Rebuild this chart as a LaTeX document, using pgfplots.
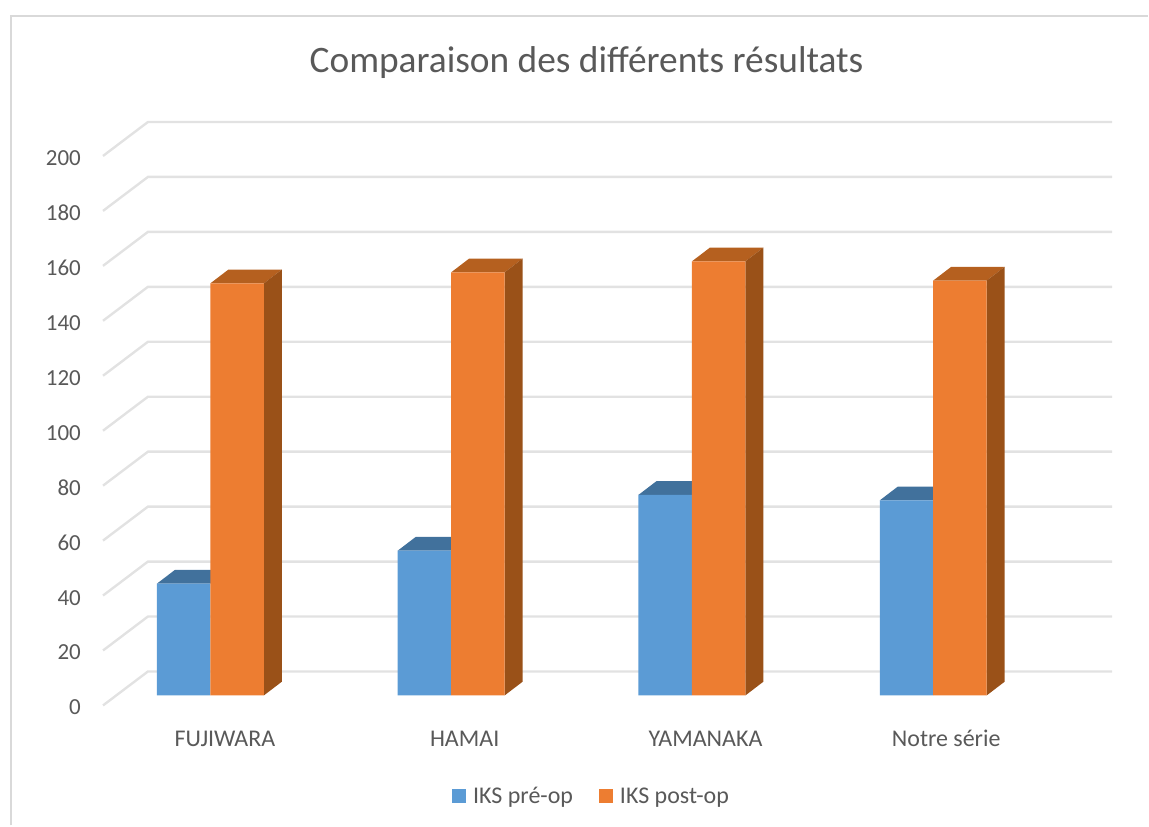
\documentclass[border=0pt]{standalone}
\usepackage{fontspec}
\setmainfont{Carlito}
\usepackage{pgfplots}
\usepackage{pgfplotstable}
\pgfplotsset{compat=1.18}

\definecolor{gridc}{HTML}{E2E2E2}
\definecolor{framec}{HTML}{D9D9D9}
\definecolor{textc}{HTML}{595959}
\definecolor{blueF}{HTML}{5B9BD5}
\definecolor{blueT}{HTML}{41719C}
\definecolor{orangeF}{HTML}{ED7D31}
\definecolor{orangeT}{HTML}{B5601F}
\definecolor{orangeS}{HTML}{9A5118}

% Scores per series: position of the bar centre, score
\pgfplotstableread{
pos   val
183.75 40.7
424.75 52.7
665.75 73
907.25 71
}\preop
\pgfplotstableread{
pos   val
237.25 150
478.25 154
719.25 158
960.75 151
}\postop

% Oblique depth of the bars: 18 units across, 5 score points up
\newcommand{\topface}[3]{% left edge, score, colour
  \pgfmathsetmacro{\xa}{#1+18}\pgfmathsetmacro{\xb}{#1+53.5+18}
  \pgfmathsetmacro{\xc}{#1+53.5}\pgfmathsetmacro{\yb}{#2+5}
  \addplot[fill=#3,draw=none,forget plot] coordinates {(#1,#2) (\xa,\yb) (\xb,\yb) (\xc,#2)} --cycle;}
\newcommand{\sideface}[3]{% right edge, score, colour
  \pgfmathsetmacro{\xa}{#1+18}\pgfmathsetmacro{\yb}{#2+5}
  \addplot[fill=#3,draw=none,forget plot] coordinates {(#1,0) (\xa,5) (\xa,\yb) (#1,#2)} --cycle;}
% One level of the grid: floor edge and back wall
\newcommand{\gridlevel}[1]{%
  \pgfmathsetmacro{\ya}{#1-3.64}\pgfmathsetmacro{\yb}{#1+8.73}
  \addplot[gridc,line width=2.4pt,forget plot] coordinates {(103,\ya) (148,\yb) (1113,\yb)};}

\begin{document}
\begin{tikzpicture}
\begin{axis}[
  scale only axis,
  width=1149pt, height=826pt,
  xmin=0, xmax=1149,
  ymin=-47.27, ymax=253.09,
  axis line style={draw=none},
  major tick length=0pt,
  clip=false,
  xtick={225,465,706,947},
  xticklabels={FUJIWARA,HAMAI,YAMANAKA,Notre série},
  ytick={-4.4,15.6,35.6,55.6,75.6,95.6,115.6,135.6,155.6,175.6,195.6},
  yticklabels={0,20,40,60,80,100,120,140,160,180,200},
  yticklabel style={text=textc,font=\fontsize{23}{25}\selectfont,inner sep=0pt,xshift=81pt,anchor=east},
  xticklabel style={text=textc,font=\fontsize{24}{26}\selectfont,inner sep=0pt,
    text height=15pt,text depth=0pt,anchor=north,yshift=94pt},
  /pgf/number format/assume math mode=true,
  legend columns=2,
  legend style={at={(axis cs:592,-36.7)},anchor=center,draw=none,fill=none,
    font=\fontsize{24}{26}\selectfont,text=textc,inner sep=0pt,
    /tikz/every odd column/.style={column sep=5pt},
    /tikz/every even column/.style={column sep=24pt}},
  legend image code/.code={\fill[#1] (0pt,-7pt) rectangle (14pt,7pt);},
]
% Chart frame, open on the right and at the bottom
\addplot[framec,line width=2pt,forget plot] coordinates {(11,-47.27) (11,247.27) (1149,247.27)};

% Grid
\gridlevel{0}\gridlevel{20}\gridlevel{40}\gridlevel{60}\gridlevel{80}\gridlevel{100}
\gridlevel{120}\gridlevel{140}\gridlevel{160}\gridlevel{180}\gridlevel{200}

% IKS pré-op
\topface{157}{40.7}{blueT}\topface{398}{52.7}{blueT}
\topface{639}{73}{blueT}\topface{880.5}{71}{blueT}
\addplot[ybar,bar width=53.5pt,bar shift=0pt,fill=blueF,draw=none] table[x=pos,y=val] {\preop};
\addlegendentry{IKS pré-op}

% IKS post-op
\topface{210.5}{150}{orangeT}\topface{451.5}{154}{orangeT}
\topface{692.5}{158}{orangeT}\topface{934}{151}{orangeT}
\sideface{264}{150}{orangeS}\sideface{505}{154}{orangeS}
\sideface{746}{158}{orangeS}\sideface{987.5}{151}{orangeS}
\addplot[ybar,bar width=53.5pt,bar shift=0pt,fill=orangeF,draw=none] table[x=pos,y=val] {\postop};
\addlegendentry{IKS post-op}

\node[text=textc,font=\fontsize{37.4}{41}\selectfont,inner sep=0pt] at (axis cs:587,230.3) {Comparaison des différents résultats};
\end{axis}
\end{tikzpicture}
\end{document}
